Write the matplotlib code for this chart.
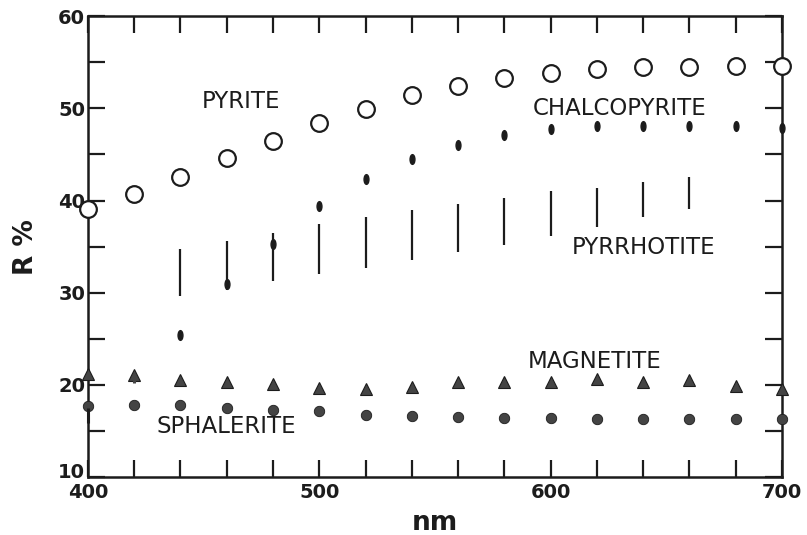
"""
Reflectance spectra of common sulphide/oxide minerals (R % vs wavelength).
"""

import matplotlib
matplotlib.use("Agg")
import matplotlib.pyplot as plt
from matplotlib.path import Path
from matplotlib.transforms import Affine2D, ScaledTranslation


# --- Data -------------------------------------------------------------------

wavelength = [400, 420, 440, 460, 480, 500, 520, 540, 560, 580,
              600, 620, 640, 660, 680, 700]

pyrite = [39.1, 40.7, 42.6, 44.6, 46.4, 48.4, 49.9, 51.4, 52.4, 53.3,
          53.8, 54.3, 54.5, 54.5, 54.6, 54.6]

chalco_nm = [440, 460, 480, 500, 520, 540, 560, 580, 600, 620, 640, 660, 680, 700]
chalcopyrite = [25.4, 31.0, 35.3, 39.4, 42.3, 44.5, 46.0, 47.1, 47.8, 48.1,
                48.1, 48.1, 48.1, 47.9]

# pyrrhotite is drawn as a range (bireflectance): low / high
pyrr_nm = [440, 460, 480, 500, 520, 540, 560, 580, 600, 620, 640, 660]
pyrr_low = [29.7, 30.3, 31.3, 32.0, 32.7, 33.6, 34.4, 35.2, 36.2, 37.1, 38.2, 39.1]
pyrr_high = [34.7, 35.6, 36.5, 37.4, 38.2, 39.0, 39.6, 40.3, 41.0, 41.4, 42.0, 42.6]

magnetite = [21.2, 21.1, 20.5, 20.3, 20.1, 19.7, 19.6, 19.8, 20.3, 20.3,
             20.3, 20.6, 20.3, 20.5, 19.9, 19.6]

sphalerite = [17.7, 17.8, 17.8, 17.5, 17.3, 17.2, 16.8, 16.6, 16.5, 16.4,
              16.4, 16.3, 16.3, 16.3, 16.3, 16.3]

labels = ["PYRITE", "CHALCOPYRITE", "PYRRHOTITE", "MAGNETITE", "SPHALERITE"]
label_pos = [(466, 50.7), (630, 50.0), (640, 34.9), (619, 22.5), (460, 15.5)]

INK = "#1c1c1c"
DOT = "#444444"

# vertical oval marker for chalcopyrite
oval = Path.unit_circle().transformed(Affine2D().scale(0.5, 1.0))

fig = plt.figure(figsize=(8.07, 5.35), dpi=100)
ax = fig.add_axes([0.109, 0.108, 0.860, 0.862])

ax.vlines(pyrr_nm, pyrr_low, pyrr_high, color=INK, linewidth=1.6, zorder=3)
ax.plot(chalco_nm, chalcopyrite, linestyle="none", marker=oval, markersize=7,
        color=INK, zorder=4, clip_on=False)
ax.plot(wavelength, magnetite, linestyle="none", marker="^", markersize=8,
        color=DOT, markeredgecolor=INK, markeredgewidth=0.8, zorder=4, clip_on=False)
ax.plot(wavelength, sphalerite, linestyle="none", marker="o", markersize=7.5,
        color=DOT, markeredgecolor=INK, markeredgewidth=0.6, zorder=4, clip_on=False)
ax.plot(wavelength, pyrite, linestyle="none", marker="o", markersize=12,
        markerfacecolor="white", markeredgecolor=INK, markeredgewidth=1.6,
        zorder=5, clip_on=False)

# small stems seen in the original at 420 (magnetite) and 400 (sphalerite)
ax.vlines([420], [20.2], [21.0], color=DOT, linewidth=2.2, zorder=4)
ax.vlines([400], [15.9], [17.5], color=INK, linewidth=2.2, zorder=4, clip_on=False)

for text, (x, y) in zip(labels, label_pos):
    ax.text(x, y, text, ha="center", va="center", fontsize=16.5,
            color=INK, family="DejaVu Sans")

ax.set_xlim(400, 700)
ax.set_ylim(10, 60)
ax.set_xticks([400, 500, 600, 700])
ax.set_xticks(range(400, 701, 20), minor=True)
ax.set_yticks([10, 20, 30, 40, 50, 60])
ax.set_yticks(range(10, 61, 5), minor=True)

ax.tick_params(which="both", direction="in", top=True, right=True,
               color=INK, width=1.6, length=12, labelsize=14,
               labelcolor=INK, pad=4)
ax.tick_params(axis="y", pad=2)
for lab in ax.get_xticklabels() + ax.get_yticklabels():
    lab.set_fontweight("bold")

# the "10" sits a little above the corner so it clears "400"
ylabs = ax.get_yticklabels()
ylabs[0].set_transform(ylabs[0].get_transform()
                       + ScaledTranslation(0, 5 / 72, fig.dpi_scale_trans))

for side in ax.spines.values():
    side.set_linewidth(1.8)
    side.set_color(INK)

ax.set_xlabel("nm", fontsize=19, fontweight="bold", color=INK, labelpad=6)
ax.set_ylabel("R %", fontsize=19, fontweight="bold", color=INK, labelpad=14)

fig.savefig("out.png", dpi=100)
